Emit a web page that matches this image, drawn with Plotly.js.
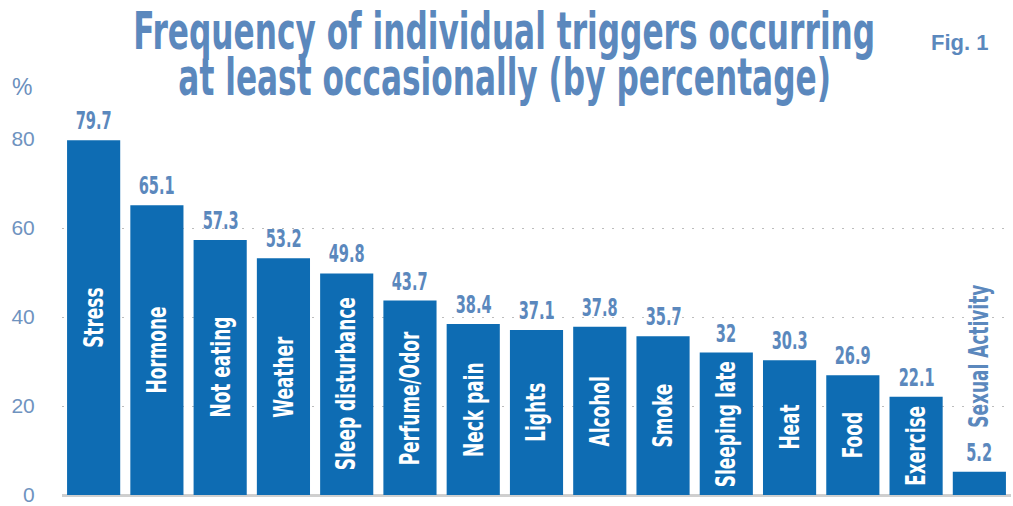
<!DOCTYPE html>
<html><head><meta charset="utf-8">
<script src="https://cdn.plot.ly/plotly-3.0.1.min.js"></script>
<style>html,body{margin:0;padding:0;background:#fff;}#chart{width:1013px;height:506px;}</style>
</head><body><div id="chart"></div>
<script>
const categories = ["Stress","Hormone","Not eating","Weather","Sleep disturbance","Perfume/Odor","Neck pain","Lights","Alcohol","Smoke","Sleeping late","Heat","Food","Exercise","Sexual Activity"];
const values = [79.7,65.1,57.3,53.2,49.8,43.7,38.4,37.1,37.8,35.7,32,30.3,26.9,22.1,5.2];
const valueLabels = ["79.7","65.1","57.3","53.2","49.8","43.7","38.4","37.1","37.8","35.7","32","30.3","26.9","22.1","5.2"];
const yTicks = [0,20,40,60,80];
const titleLines = ["Frequency of individual triggers occurring","at least occasionally (by percentage)"];
const figLabel = "Fig. 1";
const unitLabel = "%";

const NARROW = "'Liberation Sans Narrow', 'DejaVu Sans Condensed', sans-serif";
const SANS = "'Liberation Sans', Arial, sans-serif";
const BLUE_TXT = "#5b88bd";
const BAR = "#0e6cb3";

const annotations = [];
const fit = [];  // horizontal condensing spec for each annotation
function add(a, group, anchor) { annotations.push(a); fit.push({group: group, anchor: anchor}); }

add({text: titleLines[0], xref:'paper', yref:'paper', x:0.466, y:1.302, xanchor:'center', yanchor:'middle', showarrow:false,
  font:{family:NARROW, size:51, color:BLUE_TXT, weight:'bold'}}, 'title', 'center');
add({text: titleLines[1], xref:'paper', yref:'paper', x:0.466, y:1.172, xanchor:'center', yanchor:'middle', showarrow:false,
  font:{family:NARROW, size:51, color:BLUE_TXT, weight:'bold'}}, 'title', 'center');
add({text: figLabel, xref:'paper', yref:'paper', x:0.978, y:1.272, xanchor:'right', yanchor:'middle', showarrow:false,
  font:{family:SANS, size:22, color:BLUE_TXT, weight:'bold'}}, null, null);
add({text: unitLabel, xref:'paper', yref:'paper', x:-0.042, y:1.146, xanchor:'center', yanchor:'middle', showarrow:false,
  font:{family:SANS, size:23, color:"#6b8fbd"}}, null, null);

categories.forEach((c, i) => {
  const v = values[i];
  add({text: valueLabels[i], x:c, y:v, xref:'x', yref:'y', xanchor:'center', yanchor:'bottom', yshift:3, showarrow:false,
    font:{family:NARROW, size:24, color:BLUE_TXT, weight:'bold'}}, 'value', 'center');
  if (v >= 10) {
    add({text: c, x:c, y:v/2, xref:'x', yref:'y', xanchor:'center', yanchor:'middle', textangle:-90, showarrow:false,
      font:{family:NARROW, size:26, color:'#ffffff', weight:'bold'}}, 'cat', 'center');
  } else {
    add({text: c, x:c, y:v, xref:'x', yref:'y', xanchor:'center', yanchor:'bottom', yshift:42, textangle:-90, showarrow:false,
      font:{family:NARROW, size:26, color:BLUE_TXT, weight:'bold'}}, 'cat', 'start');
  }
});

const trace = {type:'bar', x:categories, y:values, marker:{color:BAR, line:{width:0}}, hoverinfo:'skip'};

const layout = {
  width:1013, height:506,
  margin:{l:62, r:2, t:139, b:11},
  paper_bgcolor:'#ffffff', plot_bgcolor:'#ffffff',
  showlegend:false,
  bargap:0.16,
  xaxis:{showticklabels:false, showgrid:false, zeroline:false, showline:false, ticks:'', range:[-0.5,14.5], fixedrange:true},
  yaxis:{range:[0,80], tickvals:yTicks, ticktext:yTicks.map(String), showgrid:true, gridcolor:'#bdbdbd', gridwidth:1, griddash:'2px,8px',
    zeroline:true, zerolinecolor:'#cfcfcf', zerolinewidth:3, showline:false,
    ticks:'outside', ticklen:22, tickcolor:'rgba(0,0,0,0)', ticklabeloverflow:'allow',
    tickfont:{family:SANS, size:21, color:'#6f93bf'}, fixedrange:true},
  annotations: annotations
};

// reference widths used to derive the condensing factor of each text group
const refWidth = {title:{text: titleLines[0], w:742}, value:{text:"49.8", w:36}, cat:{text:"Sleep disturbance", w:173}};

Plotly.newPlot('chart', [trace], layout, {displayModeBar:false, staticPlot:true}).then(() => {
  const texts = annotations.map((a, i) => document.querySelector('.annotation[data-index="'+i+'"] text'));
  const factor = {};
  Object.keys(refWidth).forEach(g => {
    const i = annotations.findIndex((a, k) => fit[k].group === g && a.text === refWidth[g].text);
    if (i >= 0 && texts[i]) {
      const w = texts[i].getBBox().width;
      factor[g] = Math.min(1, refWidth[g].w / w);
    }
  });
  texts.forEach((t, i) => {
    const spec = fit[i];
    if (!t || !spec.group || !factor[spec.group]) return;
    const s = factor[spec.group];
    const bb = t.getBBox();
    const cx = spec.anchor === 'start' ? bb.x : bb.x + bb.width/2;
    const prev = t.getAttribute('transform') || '';
    t.setAttribute('transform', prev + ' translate(' + cx + ',0) scale(' + s + ',1) translate(' + (-cx) + ',0)');
  });
});
</script>
</body></html>
